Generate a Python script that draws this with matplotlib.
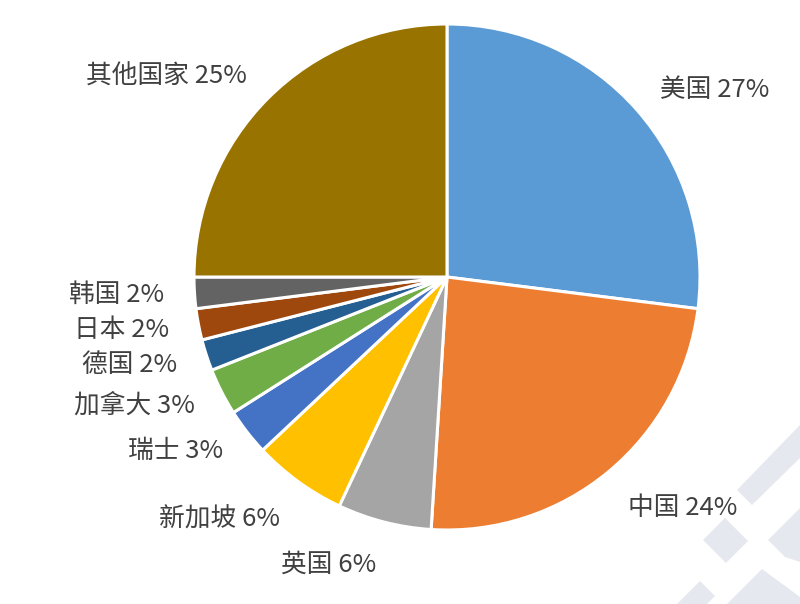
import matplotlib
matplotlib.use("Agg")
import matplotlib.pyplot as plt
from matplotlib.patches import Polygon
import numpy as np

plt.rcParams['font.family'] = ['Noto Sans CJK SC', 'DejaVu Sans']

countries = ["美国", "中国", "英国", "新加坡", "瑞士", "加拿大", "德国", "日本", "韩国", "其他国家"]
shares = [27, 24, 6, 6, 3, 3, 2, 2, 2, 25]
colors = ["#5B9BD5", "#ED7D31", "#A5A5A5", "#FFC000", "#4472C4",
          "#70AD47", "#255E91", "#9E480E", "#636363", "#997300"]

labels = [f"{c} {s}%" for c, s in zip(countries, shares)]

W, H = 800, 604
cx, cy, r_px = 447, 277, 253   # pie centre / radius in pixels (from top)

fig = plt.figure(figsize=(W / 100, H / 100), dpi=100)

# faint watermark shapes, bottom right (pixel coords from top-left)
marks = [
    [(737, 490), (800, 425), (800, 458), (752, 505)],
    [(703, 540), (725, 518), (748, 541), (726, 563)],
    [(727, 604), (762, 569), (800, 597), (800, 604)],
    [(677, 604), (700, 581), (715, 596), (707, 604)],
    [(768, 540), (800, 508), (800, 562), (785, 557)],
]
for m in marks:
    pts = [(x / W, 1 - y / H) for x, y in m]
    fig.add_artist(Polygon(pts, closed=True, transform=fig.transFigure,
                           facecolor="#E6E8EF", edgecolor="none", zorder=0))

ax = fig.add_axes([0, 0, 1, 1])
ax.patch.set_alpha(0)

wedges, texts = ax.pie(
    shares,
    labels=labels,
    colors=colors,
    startangle=90,
    counterclock=False,
    labeldistance=1.12,
    wedgeprops=dict(edgecolor="white", linewidth=2.2),
    textprops=dict(fontsize=18.5, color="#404040", fontweight="light"),
)

# bottom labels hang below their anchor like in the original
for w, t in zip(wedges, texts):
    mid = np.deg2rad((w.theta1 + w.theta2) / 2)
    if np.sin(mid) < -0.75:
        t.set_va("top")

ax.set_xlim(-cx / r_px, (W - cx) / r_px)
ax.set_ylim(-(H - cy) / r_px, cy / r_px)
ax.set_aspect("equal")
ax.axis("off")

plt.savefig("out.png", dpi=100)
